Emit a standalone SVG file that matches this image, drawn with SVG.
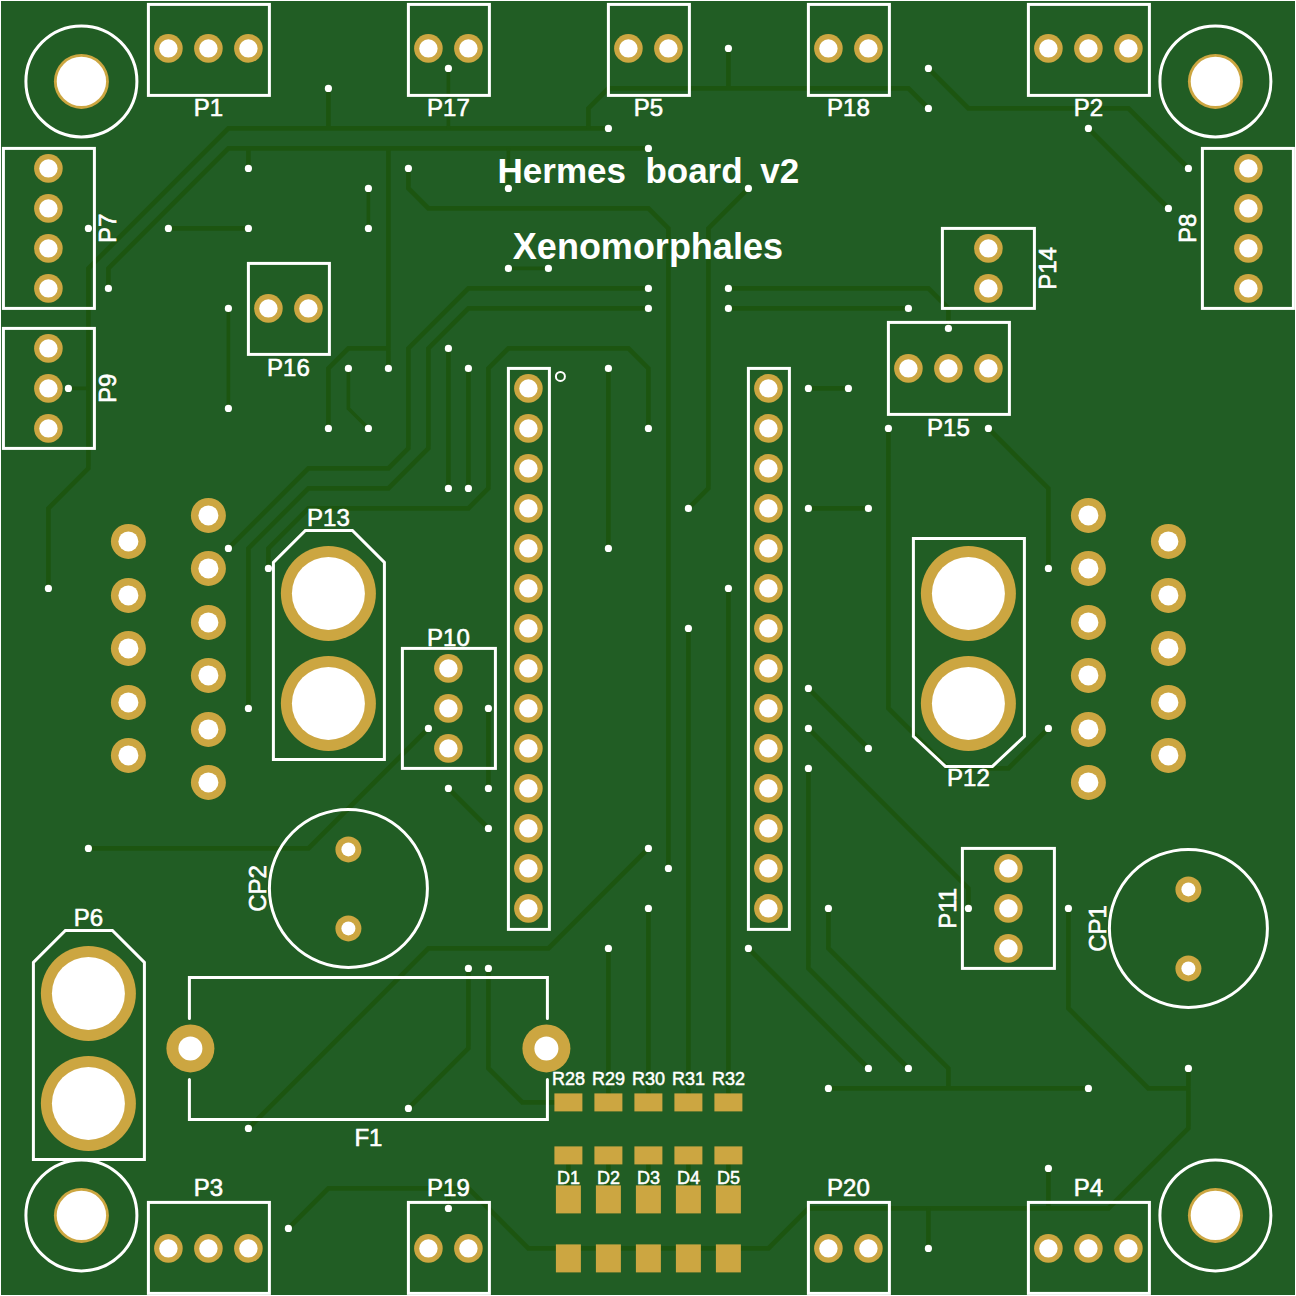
<svg xmlns="http://www.w3.org/2000/svg" width="1296" height="1296" viewBox="0 0 1296 1296">
<style>
.t{fill:none;stroke:#1c5510;stroke-width:4.6;stroke-linejoin:miter}
.n{stroke-width:3.6}
.s{fill:none;stroke:#fff;stroke-width:3;stroke-linejoin:miter;stroke-linecap:round}
text{font-family:"Liberation Sans",Arial,sans-serif;fill:#fff;stroke:#fff;stroke-width:.6;text-anchor:middle;font-size:24px}
.sm{font-size:18px;stroke-width:.5}
.ti{font-size:36px;font-weight:bold;stroke-width:0;white-space:pre}
.g{fill:#cca641}
.v{fill:#fff}
</style>
<defs>
<g id="pad"><circle r="14.3" class="g"/><circle r="9.2" class="v"/></g>
<g id="dsub"><circle r="17.5" class="g"/><circle r="10" class="v"/></g>
<g id="big"><circle r="47.5" class="g"/><circle r="36.5" class="v"/></g>
<g id="cap"><circle r="13" class="g"/><circle r="7" class="v"/></g>
<g id="fuse"><circle r="24" class="g"/><circle r="12" class="v"/></g>
<g id="mount"><circle r="55.5" class="s"/><circle r="27.5" class="g"/><circle r="24.7" class="v"/></g>
<circle id="via" r="3.6" class="v"/>
<rect id="rp" x="-14" y="-9" width="28" height="18" class="g"/>
<rect id="dp" x="-12.5" y="-14" width="25" height="28" class="g"/>
</defs>
<rect width="1296" height="1296" fill="#fff"/>
<rect x="1" y="1" width="1294" height="1294" fill="#215d24"/>
<g transform="translate(.4 .4)">

<g id="connectors">
<path class="t" d="M328 88V128M608 128H228L88 268V468L48 508V588"/>
<path class="t" d="M648 148H228L108 268V288M248 148V168M388 148V368M388 348H348L328 368V428"/>
<path class="t n" d="M348 368V408L368 428"/>
<path class="t" d="M168 228H248"/>
<path class="t n" d="M368 188V228M228 308V408M68 388H88"/>
<path class="t" d="M408 168V188L428 208H648L668 228V868"/>
<path class="t n" d="M508 188V148M448 68V128"/>
<path class="t" d="M588 128V108L608 88H908L928 108M728 48V88"/>
<path class="t" d="M928 68L968 108H1128L1188 168M1088 128L1168 208"/>
<path class="t" d="M748 188L708 228V488L688 508"/>
<path class="t n" d="M508 268H548"/>
<path class="t" d="M648 288H468L408 348V448L388 468H308L228 548"/>
<path class="t" d="M648 308H468L428 348V448L388 488H308L248 548V708"/>
<path class="t" d="M448 348V488M468 368V488"/>
<path class="t" d="M268 568V548L308 508H468L488 488V368L508 348H628L648 368V428"/>
<path class="t" d="M608 368V548"/>
<path class="t" d="M728 288H928L948 308V328M728 308H908M808 388H848M808 508H868"/>
<path class="t" d="M888 428V708L948 768H1008L1048 728M988 428L1048 488V568"/>
<path class="t" d="M808 688L868 748M808 728L968 888V908"/>
<path class="t" d="M808 768V968L908 1068M828 908V948L948 1068V1088M828 1088H1088M748 948L868 1068"/>
<path class="t" d="M1068 908V1008L1148 1088H1188M1188 1068V1128L1108 1208H808L768 1248H528L468 1188H328L288 1228"/>
<path class="t" d="M448 1188V1208M928 1208V1248M1048 1168V1208"/>
<path class="t" d="M428 728L308 848H88M488 708V788M448 788L488 828"/>
<path class="t" d="M648 848L548 948H428L248 1128M468 968V1048L408 1108M488 968V1068L522 1102H568"/>
<path class="t" d="M608 948V1102M648 908V1102M688 628V1102M728 588V1102"/>
<path class="t" d="M568 1155V1199M608 1155V1199M648 1155V1199M688 1155V1199M728 1155V1199"/>
</g>

<g id="vias">
<use href="#via" x="328" y="88"/><use href="#via" x="608" y="128"/><use href="#via" x="648" y="148"/>
<use href="#via" x="48" y="588"/><use href="#via" x="108" y="288"/><use href="#via" x="88" y="228"/><use href="#via" x="68" y="388"/>
<use href="#via" x="248" y="168"/><use href="#via" x="388" y="368"/><use href="#via" x="328" y="428"/><use href="#via" x="348" y="368"/><use href="#via" x="368" y="428"/>
<use href="#via" x="168" y="228"/><use href="#via" x="248" y="228"/><use href="#via" x="368" y="188"/><use href="#via" x="368" y="228"/>
<use href="#via" x="228" y="308"/><use href="#via" x="228" y="408"/><use href="#via" x="408" y="168"/><use href="#via" x="668" y="868"/>
<use href="#via" x="508" y="188"/><use href="#via" x="448" y="68"/><use href="#via" x="928" y="108"/><use href="#via" x="728" y="48"/>
<use href="#via" x="928" y="68"/><use href="#via" x="1188" y="168"/><use href="#via" x="1088" y="128"/><use href="#via" x="1168" y="208"/>
<use href="#via" x="748" y="188"/><use href="#via" x="688" y="508"/><use href="#via" x="508" y="268"/><use href="#via" x="548" y="268"/>
<use href="#via" x="648" y="288"/><use href="#via" x="228" y="548"/><use href="#via" x="648" y="308"/><use href="#via" x="248" y="708"/>
<use href="#via" x="448" y="348"/><use href="#via" x="448" y="488"/><use href="#via" x="468" y="368"/><use href="#via" x="468" y="488"/>
<use href="#via" x="268" y="568"/><use href="#via" x="648" y="428"/><use href="#via" x="608" y="368"/><use href="#via" x="608" y="548"/>
<use href="#via" x="728" y="288"/><use href="#via" x="948" y="328"/><use href="#via" x="728" y="308"/><use href="#via" x="908" y="308"/>
<use href="#via" x="808" y="388"/><use href="#via" x="848" y="388"/><use href="#via" x="808" y="508"/><use href="#via" x="868" y="508"/>
<use href="#via" x="888" y="428"/><use href="#via" x="1048" y="728"/><use href="#via" x="988" y="428"/><use href="#via" x="1048" y="568"/>
<use href="#via" x="808" y="688"/><use href="#via" x="868" y="748"/><use href="#via" x="808" y="728"/><use href="#via" x="968" y="908"/>
<use href="#via" x="808" y="768"/><use href="#via" x="908" y="1068"/><use href="#via" x="828" y="908"/><use href="#via" x="828" y="1088"/><use href="#via" x="1088" y="1088"/>
<use href="#via" x="748" y="948"/><use href="#via" x="868" y="1068"/><use href="#via" x="1068" y="908"/><use href="#via" x="1188" y="1068"/>
<use href="#via" x="288" y="1228"/><use href="#via" x="448" y="1208"/><use href="#via" x="928" y="1248"/><use href="#via" x="1048" y="1168"/>
<use href="#via" x="428" y="728"/><use href="#via" x="88" y="848"/><use href="#via" x="488" y="708"/><use href="#via" x="488" y="788"/><use href="#via" x="448" y="788"/><use href="#via" x="488" y="828"/>
<use href="#via" x="648" y="848"/><use href="#via" x="248" y="1128"/><use href="#via" x="468" y="968"/><use href="#via" x="408" y="1108"/><use href="#via" x="488" y="968"/>
<use href="#via" x="608" y="948"/><use href="#via" x="648" y="908"/><use href="#via" x="688" y="628"/><use href="#via" x="728" y="588"/>
</g>

<g id="H1"><use href="#mount" x="81" y="81"/></g>
<g id="H2"><use href="#mount" x="1215" y="81"/></g>
<g id="H3"><use href="#mount" x="81" y="1215"/></g>
<g id="H4"><use href="#mount" x="1215" y="1215"/></g>

<g id="P1"><rect class="s" x="148" y="4" width="121" height="91"/><use href="#pad" x="168" y="48"/><use href="#pad" x="208" y="48"/><use href="#pad" x="248" y="48"/><text x="208" y="116">P1</text></g>
<g id="P17"><rect class="s" x="408" y="4" width="81" height="91"/><use href="#pad" x="428" y="48"/><use href="#pad" x="468" y="48"/><text x="448" y="116">P17</text></g>
<g id="P5"><rect class="s" x="608" y="4" width="81" height="91"/><use href="#pad" x="628" y="48"/><use href="#pad" x="668" y="48"/><text x="648" y="116">P5</text></g>
<g id="P18"><rect class="s" x="808" y="4" width="81" height="91"/><use href="#pad" x="828" y="48"/><use href="#pad" x="868" y="48"/><text x="848" y="116">P18</text></g>
<g id="P2"><rect class="s" x="1028" y="4" width="121" height="91"/><use href="#pad" x="1048" y="48"/><use href="#pad" x="1088" y="48"/><use href="#pad" x="1128" y="48"/><text x="1088" y="116">P2</text></g>
<g id="P7"><rect class="s" x="3" y="148" width="91" height="160"/><use href="#pad" x="48" y="168"/><use href="#pad" x="48" y="208"/><use href="#pad" x="48" y="248"/><use href="#pad" x="48" y="288"/><text transform="translate(116 228) rotate(-90)">P7</text></g>
<g id="P9"><rect class="s" x="3" y="328" width="91" height="120"/><use href="#pad" x="48" y="348"/><use href="#pad" x="48" y="388"/><use href="#pad" x="48" y="428"/><text transform="translate(116 388) rotate(-90)">P9</text></g>
<g id="P8"><rect class="s" x="1202" y="148" width="91" height="160"/><use href="#pad" x="1248" y="168"/><use href="#pad" x="1248" y="208"/><use href="#pad" x="1248" y="248"/><use href="#pad" x="1248" y="288"/><text transform="translate(1196 228) rotate(-90)">P8</text></g>
<g id="P14"><rect class="s" x="942" y="228" width="92" height="80"/><use href="#pad" x="988" y="248"/><use href="#pad" x="988" y="288"/><text transform="translate(1056 268) rotate(-90)">P14</text></g>
<g id="P16"><rect class="s" x="248" y="263" width="81" height="91"/><use href="#pad" x="268" y="308"/><use href="#pad" x="308" y="308"/><text x="288" y="376">P16</text></g>
<g id="P15"><rect class="s" x="888" y="322" width="121" height="92"/><use href="#pad" x="908" y="368"/><use href="#pad" x="948" y="368"/><use href="#pad" x="988" y="368"/><text x="948" y="436">P15</text></g>

<g id="U1"><rect class="s" x="508" y="368" width="41" height="561"/><circle cx="560" cy="376" r="4.5" fill="none" stroke="#fff" stroke-width="2"/>
<use href="#pad" x="528" y="388"/><use href="#pad" x="528" y="428"/><use href="#pad" x="528" y="468"/><use href="#pad" x="528" y="508"/><use href="#pad" x="528" y="548"/><use href="#pad" x="528" y="588"/><use href="#pad" x="528" y="628"/><use href="#pad" x="528" y="668"/><use href="#pad" x="528" y="708"/><use href="#pad" x="528" y="748"/><use href="#pad" x="528" y="788"/><use href="#pad" x="528" y="828"/><use href="#pad" x="528" y="868"/><use href="#pad" x="528" y="908"/></g>
<g id="U2"><rect class="s" x="748" y="368" width="41" height="561"/>
<use href="#pad" x="768" y="388"/><use href="#pad" x="768" y="428"/><use href="#pad" x="768" y="468"/><use href="#pad" x="768" y="508"/><use href="#pad" x="768" y="548"/><use href="#pad" x="768" y="588"/><use href="#pad" x="768" y="628"/><use href="#pad" x="768" y="668"/><use href="#pad" x="768" y="708"/><use href="#pad" x="768" y="748"/><use href="#pad" x="768" y="788"/><use href="#pad" x="768" y="828"/><use href="#pad" x="768" y="868"/><use href="#pad" x="768" y="908"/></g>

<g id="J1"><use href="#dsub" x="128" y="541"/><use href="#dsub" x="128" y="595"/><use href="#dsub" x="128" y="648"/><use href="#dsub" x="128" y="702"/><use href="#dsub" x="128" y="755"/><use href="#dsub" x="208" y="515"/><use href="#dsub" x="208" y="568"/><use href="#dsub" x="208" y="622"/><use href="#dsub" x="208" y="675"/><use href="#dsub" x="208" y="729"/><use href="#dsub" x="208" y="782"/></g>
<g id="J2"><use href="#dsub" x="1168" y="541"/><use href="#dsub" x="1168" y="595"/><use href="#dsub" x="1168" y="648"/><use href="#dsub" x="1168" y="702"/><use href="#dsub" x="1168" y="755"/><use href="#dsub" x="1088" y="515"/><use href="#dsub" x="1088" y="568"/><use href="#dsub" x="1088" y="622"/><use href="#dsub" x="1088" y="675"/><use href="#dsub" x="1088" y="729"/><use href="#dsub" x="1088" y="782"/></g>

<g id="P13"><path class="s" d="M273 759V562L305 530H352L384 562V759Z"/><use href="#big" x="328" y="593"/><use href="#big" x="328" y="703"/><text x="328" y="526">P13</text></g>
<g id="P12"><path class="s" d="M913 538H1024V736L992 766H945L913 736Z"/><use href="#big" x="968" y="593"/><use href="#big" x="968" y="703"/><text x="968" y="786">P12</text></g>
<g id="P6"><path class="s" d="M33 1159V962L65 930H112L144 962V1159Z"/><use href="#big" x="88" y="993"/><use href="#big" x="88" y="1103"/><text x="88" y="926">P6</text></g>
<g id="P10"><rect class="s" x="402" y="648" width="93" height="120"/><use href="#pad" x="448" y="668"/><use href="#pad" x="448" y="708"/><use href="#pad" x="448" y="748"/><text x="448" y="646">P10</text></g>
<g id="P11"><rect class="s" x="962" y="848" width="92" height="120"/><use href="#pad" x="1008" y="868"/><use href="#pad" x="1008" y="908"/><use href="#pad" x="1008" y="948"/><text transform="translate(956 908) rotate(-90)">P11</text></g>

<g id="CP2"><circle class="s" cx="348" cy="888" r="79"/><use href="#cap" x="348" y="849"/><use href="#cap" x="348" y="928"/><text transform="translate(266 888) rotate(-90)">CP2</text></g>
<g id="CP1"><circle class="s" cx="1188" cy="928" r="79"/><use href="#cap" x="1188" y="889"/><use href="#cap" x="1188" y="968"/><text transform="translate(1106 928) rotate(-90)">CP1</text></g>

<g id="F1"><path class="s" d="M189 1018V977H547V1018M189 1079V1119H547V1079"/><use href="#fuse" x="190" y="1048"/><use href="#fuse" x="546" y="1048"/><text x="368" y="1146">F1</text></g>

<g id="P3"><rect class="s" x="148" y="1202" width="121" height="91"/><use href="#pad" x="168" y="1248"/><use href="#pad" x="208" y="1248"/><use href="#pad" x="248" y="1248"/><text x="208" y="1196">P3</text></g>
<g id="P19"><rect class="s" x="408" y="1202" width="81" height="91"/><use href="#pad" x="428" y="1248"/><use href="#pad" x="468" y="1248"/><text x="448" y="1196">P19</text></g>
<g id="P20"><rect class="s" x="808" y="1202" width="81" height="91"/><use href="#pad" x="828" y="1248"/><use href="#pad" x="868" y="1248"/><text x="848" y="1196">P20</text></g>
<g id="P4"><rect class="s" x="1028" y="1202" width="121" height="91"/><use href="#pad" x="1048" y="1248"/><use href="#pad" x="1088" y="1248"/><use href="#pad" x="1128" y="1248"/><text x="1088" y="1196">P4</text></g>

<g id="R28"><use href="#rp" x="568" y="1102"/><use href="#rp" x="568" y="1155"/><text class="sm" x="568" y="1085">R28</text></g>
<g id="R29"><use href="#rp" x="608" y="1102"/><use href="#rp" x="608" y="1155"/><text class="sm" x="608" y="1085">R29</text></g>
<g id="R30"><use href="#rp" x="648" y="1102"/><use href="#rp" x="648" y="1155"/><text class="sm" x="648" y="1085">R30</text></g>
<g id="R31"><use href="#rp" x="688" y="1102"/><use href="#rp" x="688" y="1155"/><text class="sm" x="688" y="1085">R31</text></g>
<g id="R32"><use href="#rp" x="728" y="1102"/><use href="#rp" x="728" y="1155"/><text class="sm" x="728" y="1085">R32</text></g>
<g id="D1"><use href="#dp" x="568" y="1199"/><use href="#dp" x="568" y="1258"/><text class="sm" x="568" y="1184">D1</text></g>
<g id="D2"><use href="#dp" x="608" y="1199"/><use href="#dp" x="608" y="1258"/><text class="sm" x="608" y="1184">D2</text></g>
<g id="D3"><use href="#dp" x="648" y="1199"/><use href="#dp" x="648" y="1258"/><text class="sm" x="648" y="1184">D3</text></g>
<g id="D4"><use href="#dp" x="688" y="1199"/><use href="#dp" x="688" y="1258"/><text class="sm" x="688" y="1184">D4</text></g>
<g id="D5"><use href="#dp" x="728" y="1199"/><use href="#dp" x="728" y="1258"/><text class="sm" x="728" y="1184">D5</text></g>

<g id="title"><text class="ti" x="648" y="183" style="font-size:35px">Hermes  board<tspan dx="8"> v2</tspan></text><text class="ti" x="647.5" y="259">Xenomorphales</text></g>
</g>
</svg>
